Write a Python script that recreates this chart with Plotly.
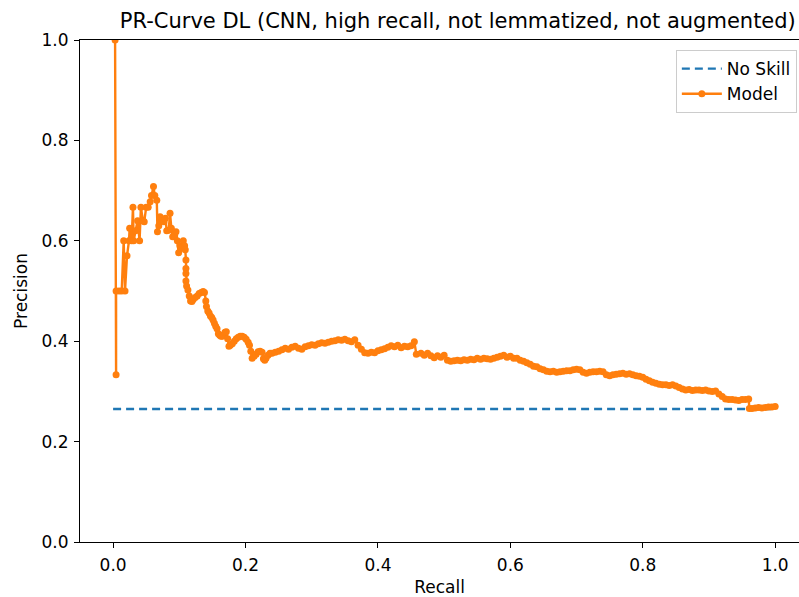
import plotly.graph_objects as go

# ---- data ----
no_skill_recall = [0.0, 1.0]
no_skill_precision = [0.265, 0.265]

model_recall = [
    0.003, 0.0045, 0.0045, 0.009, 0.013, 0.016, 0.018, 0.021, 0.024, 0.025,
    0.028, 0.030, 0.031, 0.034, 0.037, 0.040, 0.042, 0.045, 0.047, 0.050,
    0.053, 0.056, 0.058, 0.061, 0.063, 0.066, 0.067, 0.069, 0.071, 0.074,
    0.077, 0.079, 0.081, 0.084, 0.086, 0.088, 0.090, 0.093, 0.095, 0.097,
    0.099, 0.101, 0.103, 0.106, 0.108, 0.109, 0.110, 0.110, 0.110, 0.110,
    0.111, 0.113, 0.115, 0.117, 0.119, 0.121, 0.124, 0.127, 0.130, 0.133,
    0.136, 0.138, 0.140, 0.141, 0.143, 0.145, 0.147, 0.149, 0.151, 0.153,
    0.155, 0.157, 0.159, 0.161, 0.163, 0.165, 0.167, 0.169, 0.171, 0.173,
    0.175, 0.177, 0.180, 0.183, 0.186, 0.189, 0.192, 0.195, 0.198, 0.201,
    0.204, 0.206, 0.208, 0.210, 0.213, 0.216, 0.219, 0.222, 0.225, 0.227,
    0.229, 0.231, 0.234, 0.237,
    0.240, 0.245, 0.250, 0.255, 0.260, 0.265, 0.270, 0.275, 0.280, 0.285,
    0.290, 0.295, 0.300, 0.305, 0.310, 0.315, 0.320, 0.325, 0.330, 0.335,
    0.340, 0.345, 0.350, 0.355, 0.360, 0.365, 0.370, 0.375, 0.380, 0.385,
    0.390, 0.395, 0.400, 0.405, 0.410, 0.415, 0.420, 0.425, 0.430, 0.435,
    0.440, 0.445, 0.450, 0.455, 0.458, 0.465, 0.470, 0.475, 0.480, 0.485,
    0.490, 0.495, 0.500, 0.505, 0.510, 0.515, 0.520, 0.525, 0.530, 0.535,
    0.540, 0.545, 0.550, 0.555, 0.560, 0.565, 0.570, 0.575, 0.580, 0.585,
    0.590, 0.595, 0.600, 0.605, 0.610, 0.615, 0.620, 0.625, 0.630, 0.635,
    0.640, 0.645, 0.650, 0.655, 0.660, 0.665, 0.670, 0.675, 0.680, 0.685,
    0.690, 0.695, 0.700, 0.705, 0.710, 0.715, 0.720, 0.725, 0.730, 0.735,
    0.740, 0.745, 0.750, 0.755, 0.760, 0.765, 0.770, 0.775, 0.780, 0.785,
    0.790, 0.795, 0.800, 0.805, 0.810, 0.815, 0.820, 0.825, 0.830, 0.835,
    0.840, 0.845, 0.850, 0.855, 0.860, 0.865, 0.870, 0.875, 0.880, 0.885,
    0.890, 0.895, 0.900, 0.905, 0.910, 0.915, 0.920, 0.925, 0.930, 0.935,
    0.940, 0.945, 0.950, 0.955, 0.960, 0.961, 0.965, 0.970, 0.975, 0.980,
    0.985, 0.990, 0.995, 1.000,
]

model_precision = [
    1.000, 0.333, 0.500, 0.500, 0.500, 0.600, 0.500, 0.570, 0.600, 0.625,
    0.600, 0.667, 0.600, 0.620, 0.640, 0.600, 0.667, 0.640, 0.638, 0.667,
    0.667, 0.678, 0.690, 0.708, 0.690, 0.681, 0.618, 0.630, 0.648, 0.640,
    0.638, 0.645, 0.620, 0.621, 0.655, 0.625, 0.608, 0.610, 0.618, 0.600,
    0.576, 0.590, 0.585, 0.600, 0.590, 0.582, 0.562, 0.545, 0.535, 0.520,
    0.510, 0.502, 0.490, 0.480, 0.479, 0.483, 0.487, 0.490, 0.495, 0.497,
    0.499, 0.497, 0.480, 0.469, 0.460, 0.456, 0.450, 0.447, 0.442, 0.436,
    0.430, 0.425, 0.415, 0.412, 0.410, 0.410, 0.413, 0.418, 0.419, 0.405,
    0.390, 0.392, 0.395, 0.400, 0.405, 0.408, 0.410, 0.410, 0.408, 0.404,
    0.398, 0.392, 0.380, 0.366, 0.370, 0.374, 0.379, 0.380, 0.378, 0.365,
    0.362, 0.366, 0.372, 0.376,
    0.376, 0.378, 0.380, 0.383, 0.386, 0.384, 0.388, 0.390, 0.386, 0.384,
    0.389, 0.391, 0.393, 0.392, 0.395, 0.397, 0.396, 0.398, 0.400, 0.401,
    0.403, 0.402, 0.404, 0.401, 0.399, 0.403, 0.392, 0.384, 0.377, 0.376,
    0.378, 0.377, 0.381, 0.383, 0.385, 0.388, 0.391, 0.389, 0.392, 0.387,
    0.390, 0.389, 0.391, 0.399, 0.374, 0.376, 0.372, 0.376, 0.371, 0.367,
    0.371, 0.368, 0.372, 0.362, 0.360, 0.361, 0.362, 0.361, 0.363, 0.362,
    0.364, 0.363, 0.366, 0.364, 0.366, 0.365, 0.364, 0.366, 0.368, 0.370,
    0.372, 0.368, 0.370, 0.366, 0.366, 0.362, 0.360, 0.357, 0.354, 0.350,
    0.349, 0.345, 0.343, 0.340, 0.339, 0.340, 0.338, 0.339, 0.340, 0.341,
    0.341, 0.343, 0.344, 0.343, 0.338, 0.336, 0.338, 0.339, 0.339, 0.340,
    0.339, 0.333, 0.331, 0.333, 0.334, 0.335, 0.336, 0.334, 0.335, 0.333,
    0.331, 0.330, 0.328, 0.324, 0.321, 0.318, 0.316, 0.314, 0.313, 0.313,
    0.312, 0.313, 0.311, 0.308, 0.305, 0.303, 0.304, 0.302, 0.303, 0.303,
    0.302, 0.303, 0.301, 0.300, 0.301, 0.295, 0.290, 0.285, 0.284, 0.284,
    0.283, 0.282, 0.284, 0.284, 0.285, 0.266, 0.266, 0.267, 0.268, 0.267,
    0.268, 0.269, 0.269, 0.270,
]

x_ticks = [0.0, 0.2, 0.4, 0.6, 0.8, 1.0]
y_ticks = [0.0, 0.2, 0.4, 0.6, 0.8, 1.0]
tick_labels = ["0.0", "0.2", "0.4", "0.6", "0.8", "1.0"]

FONT = "DejaVu Sans"
FS = 17

fig = go.Figure()
fig.add_trace(go.Scatter(
    x=no_skill_recall, y=no_skill_precision, mode="lines", name="No Skill",
    line=dict(color="#1f77b4", width=2.4, dash="8px,5px"),
))
fig.add_trace(go.Scatter(
    x=model_recall, y=model_precision, mode="lines+markers", name="Model",
    line=dict(color="#ff7f0e", width=2.4),
    marker=dict(color="#ff7f0e", size=7, line=dict(width=0)),
))

fig.update_layout(
    width=799, height=597,
    margin=dict(l=80, r=0, t=40, b=55),
    paper_bgcolor="white", plot_bgcolor="white",
    font=dict(family=FONT, size=FS, color="black"),
    title=dict(
        text="PR-Curve DL (CNN, high recall, not lemmatized, not augmented)",
        x=0.573, xref="container", xanchor="center",
        y=0.966, yref="container", yanchor="middle",
        font=dict(family=FONT, size=21, color="black"),
    ),
    legend=dict(
        x=0.997, y=0.98, xanchor="right", yanchor="top",
        bgcolor="rgba(255,255,255,0.8)", bordercolor="#cccccc", borderwidth=1,
        font=dict(family=FONT, size=FS, color="black"),
        tracegroupgap=2, itemwidth=40,
    ),
    showlegend=True,
)
fig.update_xaxes(
    range=[-0.05, 1.036], tickvals=x_ticks, ticktext=tick_labels,
    showgrid=False, zeroline=False, showline=True, linecolor="black",
    linewidth=1, mirror=True, ticks="outside", ticklen=5, tickcolor="black",
    ticklabelstandoff=3,
    title=dict(text="Recall", standoff=7, font=dict(family=FONT, size=FS)),
)
fig.update_yaxes(
    range=[0, 1], tickvals=y_ticks, ticktext=tick_labels,
    showgrid=False, zeroline=False, showline=True, linecolor="black",
    linewidth=1, mirror=False, ticks="outside", ticklen=5, tickcolor="black",
    ticklabelstandoff=2,
    title=dict(text="Precision", standoff=9, font=dict(family=FONT, size=FS)),
)

fig.write_html("out.html")
